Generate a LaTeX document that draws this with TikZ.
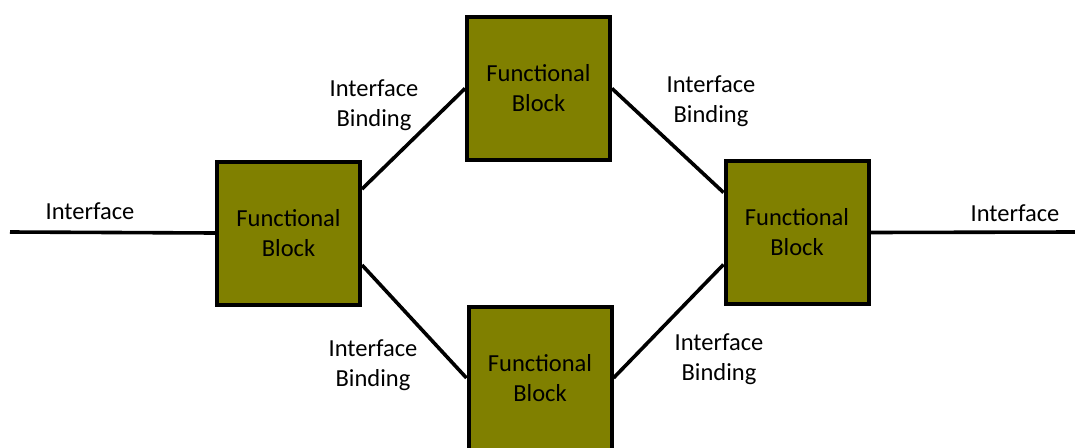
\documentclass[tikz,border=0pt]{standalone}
\usepackage{fontspec}
\setmainfont{Carlito}
\usetikzlibrary{calc}
\definecolor{blockfill}{HTML}{808000}
\begin{document}
\begin{tikzpicture}[x=1pt,y=-1pt,
  fblock/.style={draw=black, line width=4pt, fill=blockfill, minimum width=143pt,
    minimum height=143pt, inner sep=0pt, align=center, text=black,
    font=\fontsize{24.5}{30}\selectfont},
  lbl/.style={align=center, inner sep=0pt, font=\fontsize{24.5}{30}\selectfont},
  wire/.style={line width=3.6pt, black}]
  \useasboundingbox (0,0) rectangle (1075,447);
  % the four functional blocks
  \node[fblock] (L) at (288.5,233) {Functional\\Block};
  \node[fblock] (T) at (538.5,88.5) {Functional\\Block};
  \node[fblock] (R) at (797,232.5) {Functional\\Block};
  \node[fblock] (B) at (540,378) {Functional\\Block};
  % outer interface ends
  \coordinate (inL) at (10,232);
  \coordinate (inR) at (1075,232);
  % connectors
  \draw[wire] (inL) -- (L.west);
  \draw[wire] (R.east) -- (inR);
  \draw[wire] ([yshift=44pt]L.east) -- (T.west);
  \draw[wire] ([yshift=-32pt]L.east) -- (B.west);
  \draw[wire] (T.east) -- ([yshift=40pt]R.west);
  \draw[wire] (B.east) -- ([yshift=-32pt]R.west);
  % labels
  \node[lbl] (lI) at (90,211) {Interface};
  \node[lbl] (rI) at (1015,213) {Interface};
  \node[lbl] (b1) at (374,105) {Interface\\Binding};
  \node[lbl] (b2) at (711,101) {Interface\\Binding};
  \node[lbl] (b3) at (373,365) {Interface\\Binding};
  \node[lbl] (b4) at (719,359) {Interface\\Binding};
\end{tikzpicture}
\end{document}
